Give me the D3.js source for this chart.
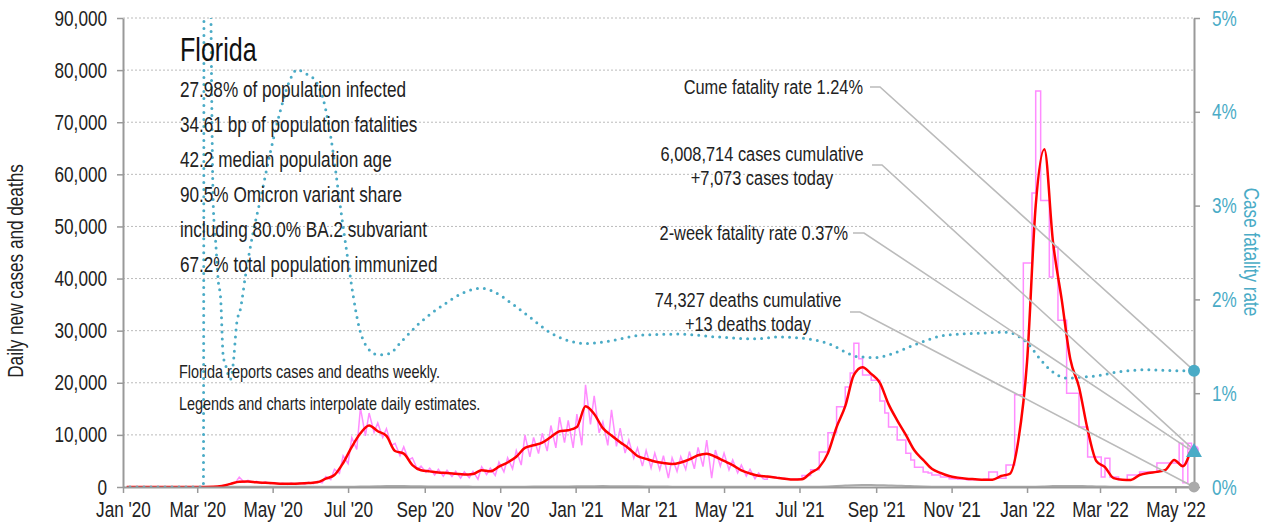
<!DOCTYPE html>
<html>
<head>
<meta charset="utf-8">
<script src="https://cdn.jsdelivr.net/npm/d3@7"></script>
<style>
body { margin: 0; background: #fff; }
text { font-family: "Liberation Sans", Arial, sans-serif; }
</style>
</head>
<body>
<script>
var width = 1281;
var height = 529;

var margin = {top: 18, left: 123, right: 87, bottom: 42};

// ---- data ----
// 7-day average of new cases, one value a week from 4 Jan 2020
var avgCases = [0,0,0,0,0,0,0,0,0,5,30,200,600,1000,1050,900,800,700,600,600,
  650,750,900,1600,2300,4600,7700,10300,11800,10700,9800,6900,6400,4200,3200,3000,2800,2700,2550,2400,
  2500,3200,3000,3900,4700,5800,7500,8000,8500,9600,10700,10900,11500,15500,14000,11300,9900,8600,7400,5950,
  5400,4900,4600,4400,4700,5300,6100,6400,5800,5000,4200,3200,2600,2150,2000,1800,1600,1450,1500,2700,
  3800,6500,11500,15500,21500,23000,21700,20000,15900,12800,10000,7000,5200,3500,2700,2100,1800,1600,1500,1400,
  1400,2100,2500,9000,24000,54000,64800,47000,36000,24500,19200,11000,5000,3800,1700,1400,1350,2300,2700,2900,
  3300,5200,4000,7600];

// daily new cases while Florida reported daily, two readings a week from 4 Jan 2020
var dailyCases = [0,0,0,0,0,0,0,0,0,0,0,0,0,0,0,0,0,0,0,10,
  40,80,250,400,700,900,1900,900,1300,900,1100,700,1000,650,850,600,700,500,750,500,
  800,550,900,650,1100,800,2000,1400,3400,2600,6000,4500,9500,7200,15200,9800,14200,10500,12300,9500,
  11200,8000,8400,6000,7700,5200,5600,3400,4000,2800,3600,2300,3400,2100,3200,2000,3000,1700,2900,1800,
  3000,1500,3900,2400,3600,2200,4800,2900,5600,3500,7000,4200,10000,5800,9500,6400,10300,6900,11800,7500,
  13400,8500,12800,7500,14000,8000,19600,12000,17500,10400,12500,8000,14800,7800,11300,6500,9000,5500,7500,4000,
  7000,3650,6500,3300,6000,1700,5600,3000,5800,3400,6800,3500,7600,3900,9000,1700,7100,4000,6500,3300,
  5200,2700,4200,2100,3400,1600,2700,1500];

// weekly reports spread over the week, two readings a week from 5 Jun 2021
var weeklyCases = [1900,1900,1700,1700,1500,1500,1500,1600,2200,2200,3300,3300,6700,6700,10400,10400,15400,15400,19200,21900,
  27600,24600,21500,21500,20500,20500,16500,14200,11500,11500,9000,9000,6500,5200,3800,3800,2900,2700,2300,2300,
  1900,1900,1600,1600,1500,1500,1400,1400,1400,1400,1500,2900,2900,1700,1700,4200,4200,17700,17700,43000,
  43000,56400,76000,55000,55000,40300,46000,32000,32000,18000,18000,18000,11500,11500,5760,5760,5760,1900,5500,1900,
  1900,1400,1400,2300,2300,2300,2900,2900,2900,2900,4600,4600,4600,4600,4600,8400,800,8400,7073];

// daily deaths, one value a week from 4 Jan 2020
var dailyDeaths = [0,0,0,0,0,0,0,0,0,0,2,8,25,45,55,50,45,40,40,40,
  38,35,35,35,40,45,60,90,120,150,180,185,175,150,130,110,100,95,90,80,
  70,65,60,55,55,60,70,80,95,100,110,120,130,150,165,170,160,150,140,125,
  110,95,85,70,60,55,55,55,60,60,60,55,50,45,40,35,30,30,35,45,
  70,110,180,270,350,380,380,340,300,250,200,150,100,70,50,40,30,25,25,25,
  25,25,25,30,40,70,120,170,200,200,180,150,110,80,50,35,25,20,15,15,
  15,15,15,13];

// case fatality rate (%), day since 1 Jan 2020 and value
var cfrDays = [0,65,66,69,71,73,75,77,79,81,83,85,87,89,92,95,99,105,111,119,
  127,135,141,147,153,162,170,175,181,186,191,196,206,215,225,240,260,275,290,300,
  315,330,345,360,375,390,420,450,480,510,531,558,574,584,594,609,622,639,666,693,
  715,725,733,740,748,756,764,774,790,806,830,850,866];
var cfrPct = [0,0,12,9,5.2,3.0,2.6,2.2,2.0,1.4,1.3,1.2,1.15,1.3,1.75,1.9,2.25,2.7,3.06,3.56,
  4.0,4.34,4.45,4.41,4.37,4.13,3.56,3.06,2.5,2.05,1.7,1.52,1.41,1.42,1.55,1.75,1.95,2.07,2.12,2.08,
  1.95,1.8,1.65,1.56,1.53,1.55,1.62,1.63,1.6,1.58,1.6,1.57,1.51,1.44,1.39,1.38,1.42,1.51,1.62,1.64,
  1.65,1.6,1.51,1.39,1.27,1.19,1.16,1.17,1.19,1.23,1.25,1.24,1.24];

var yTicks = [0,10000,20000,30000,40000,50000,60000,70000,80000,90000];
var rTicks = [0,1,2,3,4,5];

var stateName = "Florida";
var statLines = ["27.98% of population infected",
  "34.61 bp of population fatalities",
  "42.2 median population age",
  "90.5% Omicron variant share",
  "including 80.0% BA.2 subvariant",
  "67.2% total population immunized"];
var noteLines = ["Florida reports cases and deaths weekly.",
  "Legends and charts interpolate daily estimates."];

var cumeFatality = 1.24;
var twoWeekFatality = 0.37;
var casesToday = 7073;
var deathsToday = 13;

// ---- chart ----
var teal = "#4aabc6";
var squeeze = 0.78; // narrow the sans to look like the condensed face

// squeeze a text sideways around its own anchor point
function narrow(sel, k) {
  k = k || squeeze;
  sel.each(function() {
    var t = d3.select(this);
    var ax = +t.attr("x") || 0;
    t.attr("transform", "translate(" + ax + ",0) scale(" + k + ",1) translate(" + (-ax) + ",0)");
  });
}

var svg = d3.select("body")
  .append("svg")
  .attr("width", width)
  .attr("height", height);

var day0 = new Date(2020, 0, 1);
var start = new Date(2020, 0, 4);
var weeklyStart = new Date(2021, 5, 5);

var xScale = d3.scaleTime()
  .domain([day0, new Date(2022, 4, 16)])
  .range([margin.left, width - margin.right]);

var yScale = d3.scaleLinear()
  .domain([0, 90000])
  .range([height - margin.bottom, margin.top]);

var rScale = d3.scaleLinear()
  .domain([0, 5])
  .range([height - margin.bottom, margin.top]);

var x0 = margin.left, x1 = width - margin.right;

svg.append("defs").append("clipPath").attr("id", "plot")
  .append("rect")
  .attr("x", x0).attr("y", margin.top)
  .attr("width", x1 - x0).attr("height", height - margin.bottom - margin.top);

// grid
svg.append("g").selectAll("line")
  .data(yTicks.slice(1))
  .enter().append("line")
  .attr("x1", x0).attr("x2", x1)
  .attr("y1", function(d) { return yScale(d); })
  .attr("y2", function(d) { return yScale(d); })
  .attr("stroke", "#bbb")
  .attr("stroke-width", 1)
  .attr("stroke-dasharray", "2,2");

var plot = svg.append("g").attr("clip-path", "url(#plot)");

var avgPts = avgCases.map(function(v, i) { return [d3.timeDay.offset(start, 7 * i), v]; });
var dailyPts = dailyCases.map(function(v, i) { return [d3.timeDay.offset(start, Math.round(3.5 * i)), v]; });
var weeklyPts = weeklyCases.map(function(v, i) { return [d3.timeDay.offset(weeklyStart, Math.round(3.5 * i)), v]; });
var deathPts = dailyDeaths.map(function(v, i) { return [d3.timeDay.offset(start, 7 * i), v]; });
var cfrPts = cfrPct.map(function(v, i) { return [d3.timeDay.offset(day0, cfrDays[i]), v]; });

var line = d3.line()
  .x(function(d) { return xScale(d[0]); })
  .y(function(d) { return yScale(d[1]); });

plot.append("path")
  .datum(dailyPts)
  .attr("d", line)
  .attr("fill", "none")
  .attr("stroke", "#ff8cff")
  .attr("stroke-width", 1.5);

plot.append("path")
  .datum([dailyPts[dailyPts.length - 1]].concat(weeklyPts))
  .attr("d", line.curve(d3.curveStepAfter))
  .attr("fill", "none")
  .attr("stroke", "#ff8cff")
  .attr("stroke-width", 1.5);

plot.append("path")
  .datum(deathPts)
  .attr("d", line.curve(d3.curveMonotoneX))
  .attr("fill", "none")
  .attr("stroke", "#aaa")
  .attr("stroke-width", 2);

plot.append("path")
  .datum(avgPts)
  .attr("d", line.curve(d3.curveMonotoneX))
  .attr("fill", "none")
  .attr("stroke", "#ff0000")
  .attr("stroke-width", 2.5);

plot.append("path")
  .datum(cfrPts)
  .attr("d", d3.line()
    .x(function(d) { return xScale(d[0]); })
    .y(function(d) { return rScale(d[1]); })
    .curve(d3.curveMonotoneX))
  .attr("fill", "none")
  .attr("stroke", teal)
  .attr("stroke-width", 3)
  .attr("stroke-linecap", "round")
  .attr("stroke-dasharray", "0,7");

// axes
var xAxis = svg.append("g")
  .attr("transform", "translate(0," + (height - margin.bottom) + ")")
  .call(d3.axisBottom(xScale)
    .ticks(d3.timeMonth.every(2))
    .tickFormat(d3.timeFormat("%b '%y"))
    .tickSize(6).tickSizeOuter(0).tickPadding(8));

var yAxis = svg.append("g")
  .attr("transform", "translate(" + x0 + ",0)")
  .call(d3.axisLeft(yScale)
    .tickValues(yTicks)
    .tickFormat(d3.format(","))
    .tickSize(6).tickSizeOuter(0).tickPadding(10));

var rAxis = svg.append("g")
  .attr("transform", "translate(" + x1 + ",0)")
  .call(d3.axisRight(rScale)
    .tickValues(rTicks)
    .tickFormat(function(d) { return d + "%"; })
    .tickSize(6).tickSizeOuter(0).tickPadding(12));

svg.selectAll(".domain").attr("stroke", "#999").attr("stroke-width", 2);
svg.selectAll(".tick line").attr("stroke", "#999").attr("stroke-width", 1.5);
svg.selectAll(".tick text").attr("font-size", 22).attr("fill", "#222")
  .style("font-family", "'Liberation Sans', Arial, sans-serif")
  .call(narrow);
rAxis.selectAll(".tick text").attr("fill", teal);

svg.append("text")
  .attr("transform", "translate(23,271) rotate(-90) scale(" + squeeze + ",1)")
  .attr("text-anchor", "middle")
  .attr("font-size", 22)
  .attr("fill", "#222")
  .text("Daily new cases and deaths");

svg.append("text")
  .attr("transform", "translate(1244,252) rotate(90) scale(" + squeeze + ",1)")
  .attr("text-anchor", "middle")
  .attr("font-size", 22)
  .attr("fill", teal)
  .text("Case fatality rate");

// title and stats
svg.append("text")
  .attr("x", 180).attr("y", 61)
  .attr("font-size", 33)
  .attr("fill", "#111")
  .text(stateName)
  .call(narrow, 0.76);

svg.append("g").selectAll("text")
  .data(statLines)
  .enter().append("text")
  .attr("x", 180)
  .attr("y", function(d, i) { return 97 + 35 * i; })
  .attr("font-size", 22)
  .attr("fill", "#222")
  .text(function(d) { return d; })
  .call(narrow);

svg.append("g").selectAll("text")
  .data(noteLines)
  .enter().append("text")
  .attr("x", 179)
  .attr("y", function(d, i) { return 378 + 32 * i; })
  .attr("font-size", 18.5)
  .attr("fill", "#222")
  .text(function(d) { return d; })
  .call(narrow);

// leaders and end markers
var endX = x1;
var leaders = [
  {lines: ["Cume fatality rate 1.24%"], tx: 863, anchor: "end", ty: 94, sx: 870, sy: 87, hx: 880, ey: rScale(cumeFatality)},
  {lines: ["6,008,714 cases cumulative", "+7,073 cases today"], tx: 762, anchor: "middle", ty: 161, sx: 872, sy: 165, hx: 882, ey: yScale(casesToday)},
  {lines: ["2-week fatality rate 0.37%"], tx: 848, anchor: "end", ty: 240, sx: 853, sy: 233, hx: 864, ey: rScale(twoWeekFatality)},
  {lines: ["74,327 deaths cumulative", "+13 deaths today"], tx: 748, anchor: "middle", ty: 307, sx: 850, sy: 312, hx: 860, ey: yScale(deathsToday)}
];

svg.append("g").selectAll("path")
  .data(leaders)
  .enter().append("path")
  .attr("d", function(d) { return "M" + d.sx + "," + d.sy + "L" + d.hx + "," + d.sy + "L" + endX + "," + d.ey; })
  .attr("fill", "none")
  .attr("stroke", "#bbb")
  .attr("stroke-width", 1.6);

leaders.forEach(function(d) {
  var t = svg.append("text")
    .attr("x", d.tx).attr("y", d.ty)
    .attr("text-anchor", d.anchor)
    .attr("font-size", 21)
    .attr("fill", "#222");
  d.lines.forEach(function(s, i) {
    t.append("tspan").attr("x", d.tx).attr("dy", i === 0 ? 0 : 24).text(s);
  });
  t.call(narrow);
});

svg.append("circle")
  .attr("cx", endX).attr("cy", yScale(casesToday)).attr("r", 5)
  .attr("fill", "#ff8cff");

svg.append("circle")
  .attr("cx", endX).attr("cy", yScale(deathsToday)).attr("r", 5.5)
  .attr("fill", "#aaa");

svg.append("path")
  .attr("d", d3.symbol(d3.symbolTriangle, 110)())
  .attr("transform", "translate(" + endX + "," + rScale(twoWeekFatality) + ")")
  .attr("fill", teal);

svg.append("circle")
  .attr("cx", endX).attr("cy", rScale(cumeFatality)).attr("r", 6)
  .attr("fill", teal);
</script>
</body>
</html>
